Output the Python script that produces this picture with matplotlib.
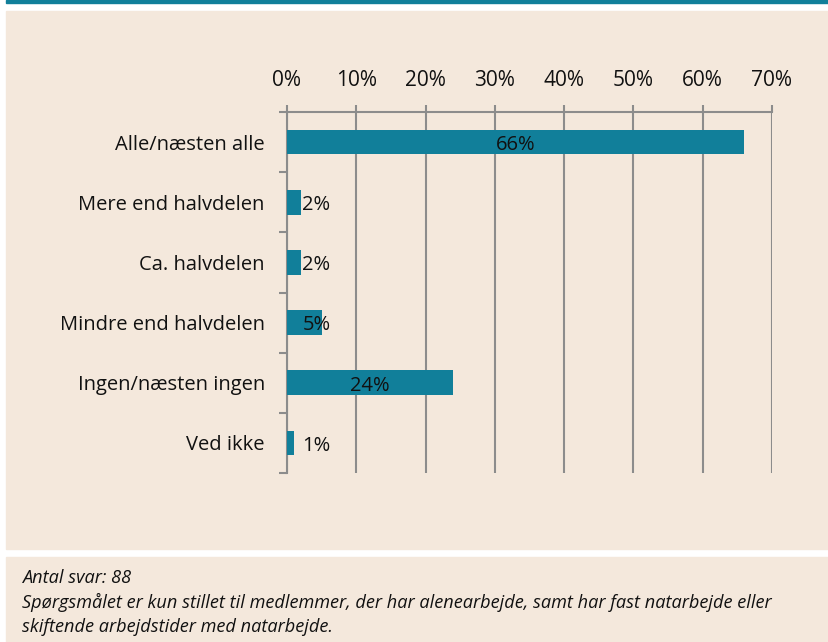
import numpy as np
import matplotlib.pyplot as plt
from matplotlib.patches import Rectangle

categories = ["Alle/næsten alle", "Mere end halvdelen", "Ca. halvdelen",
              "Mindre end halvdelen", "Ingen/næsten ingen", "Ved ikke"]
values = [66, 2, 2, 5, 24, 1]
xticks = [0, 10, 20, 30, 40, 50, 60, 70]
footnotes = ["Antal svar: 88",
             "Spørgsmålet er kun stillet til medlemmer, der har alenearbejde, samt har fast natarbejde eller",
             "skiftende arbejdstider med natarbejde."]

TEAL = "#117f9a"
BEIGE = "#f4e8dc"
GRID = "#8c8c8c"
W, H = 829, 642

plt.rcParams['font.family'] = ['Open Sans', 'DejaVu Sans']

fig = plt.figure(figsize=(W / 100, H / 100), dpi=100)
fig.patch.set_facecolor("white")

# background panels (pixel coords converted to figure fractions)
def px_rect(x0, y0, x1, y1, color):
    fig.patches.append(Rectangle((x0 / W, 1 - y1 / H), (x1 - x0) / W, (y1 - y0) / H,
                                 transform=fig.transFigure, color=color, zorder=-10))

px_rect(6, 0, W + 2, 3, TEAL)
px_rect(6, 11, W + 2, 549, BEIGE)
px_rect(6, 557, W + 2, H + 2, BEIGE)

ax = fig.add_axes([287 / W, 1 - 473 / H, (772 - 287) / W, (473 - 112) / H])
ax.set_facecolor("none")

y = np.arange(len(categories))
ax.barh(y, values, height=0.41, color=TEAL, zorder=3)
ax.set_ylim(len(categories) - 0.5, -0.5)
ax.set_xlim(0, 70)

for yi, v in zip(y, values):
    if v >= 10:
        ax.annotate(f"{v}%", (v / 2, yi), xytext=(0, -2), textcoords="offset points",
                    ha="center", va="center", fontsize=14.5, color="#111111", zorder=4)
    else:
        ax.annotate(f"{v}%", (0, yi), xytext=(11, -2), textcoords="offset points",
                    ha="left", va="center", fontsize=14.5, color="#111111", zorder=4)

ax.xaxis.tick_top()
ax.set_xticks(xticks)
ax.set_xticklabels([f"{t}%" for t in xticks], fontsize=15, color="#111111")
ax.tick_params(axis="x", length=5, width=1.5, color=GRID, pad=10)
ax.grid(axis="x", color=GRID, linewidth=1.5, zorder=1)

ax.set_yticks(y)
ax.set_yticklabels(categories, fontsize=14.5, color="#111111")
ax.set_yticks(np.arange(len(categories) + 1) - 0.5, minor=True)
ax.tick_params(axis="y", which="major", length=0, pad=16)
ax.tick_params(axis="y", which="minor", length=6, width=1.5, color=GRID)

for s in ["right", "bottom"]:
    ax.spines[s].set_visible(False)
for s in ["top", "left"]:
    ax.spines[s].set_color(GRID)
    ax.spines[s].set_linewidth(1.5)

for i, line in enumerate(footnotes):
    fig.text(22 / W, 1 - (578 + i * 24.5) / H, line, ha="left", va="center",
             fontsize=13.1, style="italic", color="#111111")

fig.savefig("out.png", dpi=100)
